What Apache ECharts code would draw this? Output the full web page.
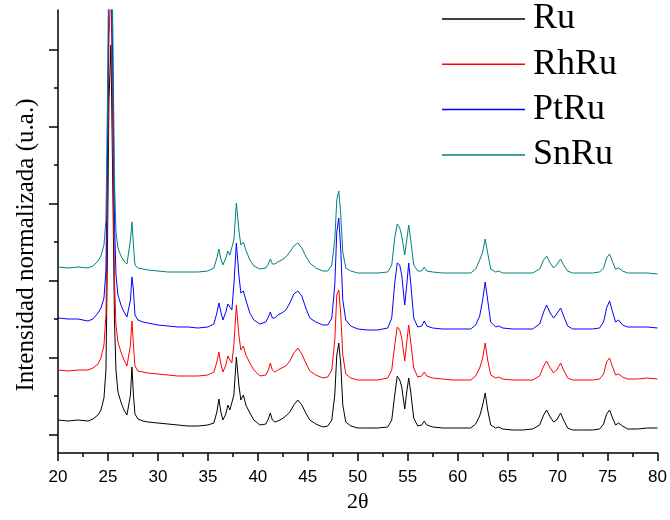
<!DOCTYPE html>
<html><head><meta charset="utf-8">
<script src="https://cdn.jsdelivr.net/npm/echarts@6/dist/echarts.min.js"></script>
<style>html,body{margin:0;padding:0;background:#fff}#c{width:670px;height:520px}</style>
</head><body><div id="c"></div>
<script>
// 2-theta positions (degrees)
const twoTheta = [
  20,21,22,23,23.5,24,24.3,24.6,24.8,24.95,
  25.1,25.3,25.5,25.65,25.8,26.0,26.3,26.6,26.9,27.1,
  27.25,27.4,27.55,27.7,28.0,28.5,29,30,31,32,
  33,34,35,35.6,35.9,36.1,36.3,36.5,36.8,37.0,
  37.2,37.4,37.6,37.85,38.1,38.3,38.55,38.8,39.2,39.6,
  40.2,40.8,41.05,41.25,41.45,41.7,42.0,42.4,42.8,43.2,
  43.6,44.0,44.4,44.8,45.2,45.8,46.5,47.0,47.4,47.7,
  47.9,48.1,48.3,48.5,48.8,49.3,50,51,52,53,
  53.4,53.7,53.95,54.2,54.4,54.7,54.9,55.1,55.3,55.6,
  56.0,56.4,56.65,56.9,57.5,58.5,59.5,60.5,61.3,61.8,
  62.2,62.5,62.75,63.0,63.3,63.8,64.1,64.5,65.5,66.5,
  67.5,68.2,68.6,68.9,69.2,69.6,69.9,70.3,70.6,71.0,
  71.5,72.5,73.5,74.2,74.6,74.9,75.2,75.5,75.8,76.1,
  76.5,77,78,79,80
];
// normalized intensities (offset-stacked, arbitrary units)
const ru = [
  33,32,33,32,34,38,43,55,83,203,
  353,408,253,133,83,61,51,43,38,39,
  58,86,58,39,34,32,31,30,29,28,
  27,27,28,30,41,54,41,33,39,48,
  43,41,58,96,68,53,58,48,40,33,
  28,29,34,40,33,31,32,34,37,41,
  48,53,48,40,33,29,26,27,33,58,
  98,110,88,48,31,27,25,25,25,26,
  33,58,77,73,66,44,61,75,61,35,
  27,28,32,28,26,25,25,25,25,29,
  37,48,60,43,28,25,26,24,23,23,
  24,28,38,43,37,31,33,40,33,25,
  23,23,23,24,29,39,43,35,28,30,
  27,24,24,25,25
];
const rhru = [
  83,82,83,83,85,89,95,108,138,253,
  413,473,303,173,128,111,101,93,87,87,
  108,132,108,87,82,81,80,79,78,77,
  77,77,78,81,91,101,89,81,88,97,
  93,90,108,148,118,103,107,98,90,83,
  77,78,83,90,83,81,83,85,87,92,
  100,105,99,90,82,78,75,76,83,113,
  158,163,138,98,79,75,73,73,73,75,
  83,108,126,123,115,92,111,128,111,85,
  76,77,81,77,75,74,73,73,73,77,
  85,95,110,93,78,75,76,74,73,73,
  73,77,87,92,86,80,83,90,83,75,
  73,73,73,74,79,91,95,86,78,79,
  76,74,74,75,74
];
const ptru = [
  135,134,134,132,134,140,145,155,183,303,
  473,513,373,233,178,158,148,141,136,136,
  153,176,163,138,133,131,130,128,127,126,
  126,125,126,129,140,150,141,133,141,149,
  146,143,168,210,178,160,162,153,140,133,
  129,131,136,141,135,135,138,140,143,150,
  159,162,157,145,135,131,128,128,135,168,
  221,235,203,153,133,127,124,123,123,125,
  135,170,190,188,178,148,168,190,170,135,
  126,127,132,127,125,124,124,124,124,128,
  137,153,171,153,131,126,127,125,124,124,
  124,129,141,148,141,135,139,145,137,127,
  124,124,124,125,131,145,152,141,131,133,
  128,126,126,126,125
];
const snru = [
  186,185,186,185,187,192,197,208,233,353,
  513,553,413,273,221,205,197,192,189,191,
  213,231,208,188,185,184,183,182,181,181,
  181,181,182,185,195,204,194,188,195,202,
  198,196,213,250,223,208,211,203,193,187,
  184,185,189,194,189,189,191,193,196,201,
  207,210,205,197,190,185,182,182,188,213,
  253,262,238,201,185,182,180,180,180,181,
  188,215,229,225,217,198,213,228,213,188,
  182,182,186,182,181,180,180,180,180,184,
  193,201,214,200,184,181,182,180,180,180,
  180,184,193,197,191,185,188,194,188,182,
  180,180,180,181,185,195,199,191,184,185,
  182,180,180,180,179
];
const seriesNames = ['Ru', 'RhRu', 'PtRu', 'SnRu'];
const seriesValues = [ru, rhru, ptru, snru];
const xTickLabels = ['20','25','30','35','40','45','50','55','60','65','70','75','80'];
const yMajorTicks = [18.5, 95.5, 172.5, 249.5, 326.5, 403.5];
const yMinorTicks = [57, 134, 211, 288, 365];

[ru, rhru, ptru, snru].forEach((a, i) => {
  if (a.length !== twoTheta.length) console.error('length mismatch', seriesNames[i], a.length, twoTheta.length);
});

const colors = ['#000000', '#ff0000', '#0000ff', '#008080'];
const chart = echarts.init(document.getElementById('c'), null, {renderer: 'canvas'});
const axisColor = '#000';
chart.setOption({
  animation: false,
  backgroundColor: '#fff',
  grid: {left: 58, right: 11, top: 10, bottom: 67, containLabel: false},
  legend: {
    orient: 'vertical',
    left: 442, top: 1,
    icon: 'rect',
    itemWidth: 83, itemHeight: 1.5, itemGap: 9.3,
    padding: 0,
    data: seriesNames,
    textStyle: {fontFamily: '"Liberation Serif", "Times New Roman", serif', fontSize: 36, lineHeight: 36, color: '#000', padding: [0, 0, 0, 3]}
  },
  xAxis: {
    type: 'value', min: 20, max: 80, interval: 5,
    name: '2θ', nameLocation: 'middle', nameGap: 37,
    nameTextStyle: {fontFamily: '"Liberation Serif", "Times New Roman", serif', fontSize: 22, color: '#000'},
    axisLine: {show: true, onZero: false, lineStyle: {color: axisColor, width: 1.5}},
    axisTick: {show: true, length: 8, lineStyle: {color: axisColor, width: 1.5}},
    minorTick: {show: true, splitNumber: 2, length: 4, lineStyle: {color: axisColor, width: 1.5}},
    axisLabel: {margin: 16, fontFamily: '"Liberation Sans", Arial, sans-serif', fontSize: 17, color: '#000',
      formatter: v => xTickLabels[Math.round((v - 20) / 5)] ?? ''},
    splitLine: {show: false}
  },
  yAxis: [{
    type: 'value', min: 0, max: 443,
    name: 'Intensidad normalizada (u.a.)', nameLocation: 'middle', nameGap: 19, nameRotate: 90,
    nameTextStyle: {fontFamily: '"Liberation Serif", "Times New Roman", serif', fontSize: 25, color: '#000', padding: [0, 27, 0, 0]},
    axisLine: {show: true, onZero: false, lineStyle: {color: axisColor, width: 1.5}},
    axisTick: {show: true, length: 9, customValues: yMajorTicks, lineStyle: {color: axisColor, width: 1.5}},
    axisLabel: {show: false},
    splitLine: {show: false}
  }, {
    type: 'value', min: 0, max: 443, position: 'left', offset: 0,
    axisLine: {show: false},
    axisTick: {show: true, length: 4, customValues: yMinorTicks, lineStyle: {color: axisColor, width: 1.5}},
    axisLabel: {show: false},
    splitLine: {show: false}
  }],
  series: seriesNames.map((name, k) => ({
    name, type: 'line', yAxisIndex: 0, symbol: 'none', clip: true,
    lineStyle: {width: 1, color: colors[k]}, itemStyle: {color: colors[k]},
    data: twoTheta.map((x, i) => [x, seriesValues[k][i]])
  }))
});
</script></body></html>
